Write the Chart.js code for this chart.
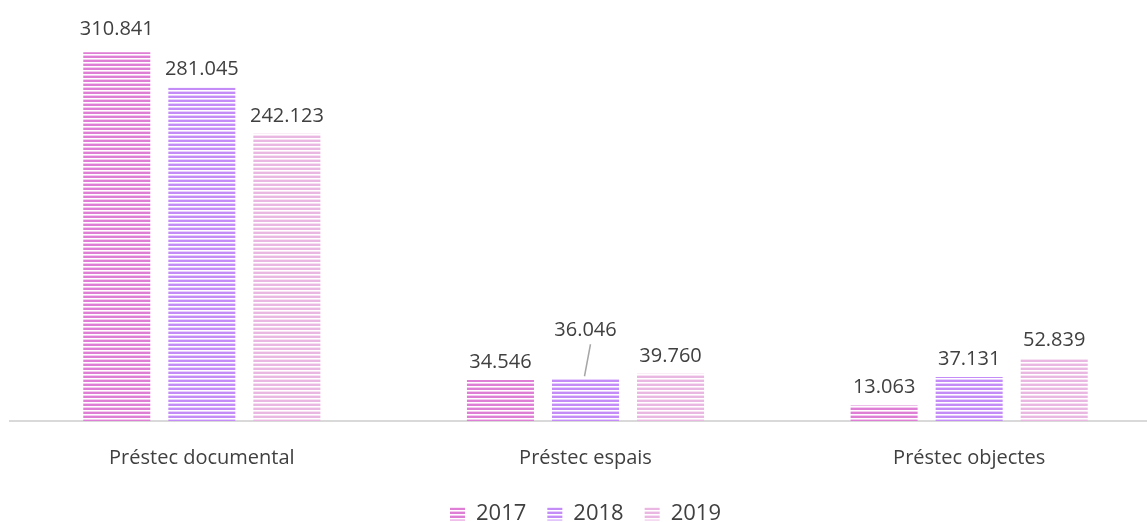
<!DOCTYPE html>
<html>
<head>
<meta charset="utf-8">
<script src="https://cdn.jsdelivr.net/npm/chart.js@4"></script>
<style>
  html, body { margin: 0; padding: 0; background: #fff; overflow: hidden; }
  #wrap { width: 1161px; height: 522px; position: relative; }
</style>
</head>
<body>
<div id="wrap"><canvas id="chart"></canvas></div>
<script>
const categories = ['Préstec documental', 'Préstec espais', 'Préstec objectes'];
const years = ['2017', '2018', '2019'];
const values2017 = [310.841, 34.546, 13.063];
const values2018 = [281.045, 36.046, 37.131];
const values2019 = [242.123, 39.760, 52.839];
const colors = ['#DE7ED5', '#C48CF7', '#EAB6E2'];

// horizontal stripe fill like the original
function stripes(color) {
    const c = document.createElement('canvas');
    c.width = 4; c.height = 4;
    const g = c.getContext('2d');
    g.fillStyle = '#fff';
    g.fillRect(0, 0, 4, 4);
    g.fillStyle = color;
    g.fillRect(0, 0, 4, 2);
    g.globalAlpha = 0.4;
    g.fillRect(0, 3, 4, 1);
    return g.createPattern(c, 'repeat');
}

function fmt(v) {
    return v.toFixed(3);
}

// value labels above bars, the 2018 'espais' one is lifted with a leader line
const barLabels = {
    id: 'barLabels',
    afterDatasetsDraw(chart) {
        const ctx = chart.ctx;
        ctx.save();
        ctx.font = '20px "Open Sans"';
        ctx.fillStyle = '#404040';
        ctx.textAlign = 'center';
        ctx.textBaseline = 'middle';
        chart.data.datasets.forEach((ds, di) => {
            chart.getDatasetMeta(di).data.forEach((bar, i) => {
                let y = bar.y - 18;
                if (di === 0 && i === 0) y = bar.y - 23;
                if (di === 1 && i === 1) {
                    y = bar.y - 48;
                    ctx.strokeStyle = '#a6a6a6';
                    ctx.lineWidth = 1.5;
                    ctx.beginPath();
                    ctx.moveTo(bar.x + 5, y + 14);
                    ctx.lineTo(bar.x - 1, bar.y - 2);
                    ctx.stroke();
                }
                ctx.fillText(fmt(ds.data[i]), bar.x, y);
            });
        });
        ctx.restore();
    }
};

const datasets = [values2017, values2018, values2019].map((vals, i) => ({
    label: years[i],
    data: vals,
    backgroundColor: stripes(colors[i]),
    borderWidth: 0,
    barPercentage: 0.788,
    categoryPercentage: 0.665
}));

new Chart(document.getElementById('chart'), {
    type: 'bar',
    data: { labels: categories, datasets: datasets },
    options: {
        responsive: true,
        maintainAspectRatio: false,
        animation: false,
        layout: { padding: { left: 10, right: 0, top: 0, bottom: -13 } },
        plugins: {
            tooltip: { enabled: false },
            legend: {
                position: 'bottom',
                labels: {
                    boxWidth: 15,
                    boxHeight: 13,
                    padding: 21,
                    color: '#404040',
                    font: { family: 'Open Sans', size: 22 }
                }
            }
        },
        scales: {
            x: {
                grid: { display: false, drawTicks: false },
                border: { color: '#d9d9d9', width: 2 },
                ticks: {
                    color: '#404040',
                    padding: 25,
                    font: { family: 'Open Sans', size: 20 }
                },
                afterFit(scale) { scale.height = 61; }
            },
            y: {
                display: false,
                min: 0,
                max: 355
            }
        }
    },
    plugins: [barLabels]
});
</script>
</body>
</html>
